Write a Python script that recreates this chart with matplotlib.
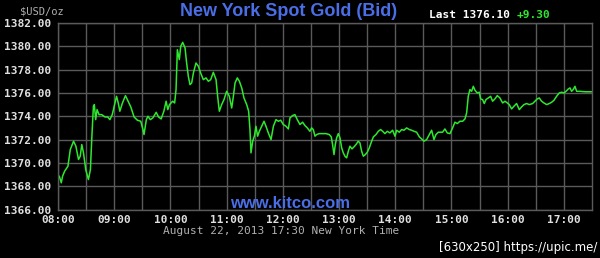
import matplotlib
matplotlib.use("Agg")
import matplotlib.pyplot as plt

# minutes after 08:00 and bid price
minutes = [
    0, 1.4, 3.5, 4.9, 7.1, 10.6, 13.1, 16.6, 19.1, 21.9, 23.7, 25.4, 27.2, 29.6,
    32.5, 34.6, 36.0, 37.8, 38.8, 40.2, 41.7, 43.8, 46.6, 50.1, 53.0, 55.4, 57.9,
    60.0, 62.5, 64.3, 66.0, 68.8, 72.0, 74.8, 77.7, 81.2, 84.7, 88.3, 90.7, 91.8,
    94.3, 96.0, 98.5, 101.3, 104.8, 107.3, 110.1, 113.0, 115.4, 117.2, 119.0,
    122.4, 124.5, 126.0, 127.4, 129.5, 131.0, 133.1, 135.6, 137.3, 139.1, 140.9,
    142.7, 144.5, 147.3, 149.8, 152.3, 155.1, 158.0, 160.5, 163.0, 165.8, 168.7,
    170.4, 172.2, 174.7, 177.2, 180.0, 182.9, 185.4, 187.2, 189.0, 191.4, 193.6,
    196.1, 198.5, 201.4, 203.5, 204.9, 206.0, 207.8, 209.6, 211.3, 213.1, 214.9,
    217.4, 219.9, 222.0, 224.5, 227.4, 229.9, 232.7, 235.2, 237.7, 240.5, 243.4,
    245.9,
    247.6, 250.4, 252.9, 255.4, 258.3, 261.1, 263.6, 266.1, 268.9, 270.7, 272.5,
    274.3, 276.1, 278.9, 282.5, 286.0, 289.6, 291.7, 293.1, 294.6, 296.0, 297.4,
    299.2, 301.0, 302.8, 304.5, 306.3, 308.1, 309.9, 311.6, 313.8, 315.9, 318.1,
    320.5, 322.3, 324.1, 325.9, 328.0, 330.1, 332.3, 334.4, 336.6, 339.4, 341.9,
    344.4, 346.5, 349.0, 351.5, 354.3, 357.2, 359.7, 361.5, 364.3, 366.8, 369.3,
    372.1, 375.0, 377.5, 380.0, 382.8, 385.7, 388.1, 390.6, 393.5, 396.3, 398.8,
    401.3, 403.4, 405.9,
    410.5, 413.0, 415.5, 418.4, 421.2, 423.7, 426.2, 429.0, 431.9, 434.4, 436.2,
    437.9, 439.7, 441.5, 443.3, 445.1, 447.5, 449.7, 451.1, 453.2, 455.0, 456.8,
    459.3, 461.8, 463.9, 466.4, 468.9, 471.7, 474.6, 477.1, 479.6, 481.7, 484.2,
    486.7, 489.5, 492.4, 494.9, 497.4, 500.2, 503.1, 506.6, 509.1, 511.6, 513.7,
    516.2, 518.7, 521.6, 524.4, 526.9, 529.4, 532.2, 535.1, 537.6, 540.1, 542.2,
    544.7, 546.5, 548.2, 550.0, 551.8, 553.6, 557.1, 563.0, 570.0,
]
prices = [
    1368.71, 1368.86, 1368.29, 1368.86, 1369.29, 1369.71, 1371.14, 1371.86,
    1371.43, 1370.29, 1370.57, 1371.57, 1370.86, 1369.43, 1368.57, 1369.43,
    1372.00, 1374.86, 1375.00, 1373.71, 1374.57, 1374.14, 1374.14, 1373.94,
    1373.94, 1373.71, 1374.14, 1374.86, 1375.71, 1375.14, 1374.43, 1375.14,
    1375.77, 1375.29, 1374.80, 1373.94, 1373.66, 1373.57, 1372.86, 1372.43,
    1373.71, 1374.00, 1373.71, 1373.86, 1374.34, 1373.94, 1373.77, 1374.43,
    1375.29, 1374.57, 1375.00,
    1375.29, 1375.14, 1376.29, 1379.71, 1378.86, 1380.00, 1380.34, 1379.86,
    1378.57, 1377.43, 1376.71, 1376.86, 1377.71, 1378.57, 1378.29, 1377.71,
    1377.14, 1377.29, 1377.00, 1377.14, 1377.77, 1377.14, 1375.71, 1374.43,
    1375.00, 1375.43, 1376.14, 1375.71, 1374.71, 1375.71, 1376.86, 1377.29,
    1377.00, 1376.43, 1375.57, 1375.00, 1374.43, 1372.86, 1370.86, 1371.86,
    1372.29, 1373.14, 1372.29, 1372.71, 1373.14, 1373.57, 1373.14, 1372.57,
    1372.00, 1373.14, 1373.71, 1373.57, 1373.66, 1373.29, 1373.14, 1372.91,
    1373.86, 1374.06, 1374.14, 1373.71, 1373.29, 1373.49, 1373.20, 1373.00,
    1372.71, 1373.00, 1372.86, 1372.29, 1372.43, 1372.51, 1372.51, 1372.51,
    1372.43, 1372.23, 1371.57, 1370.71, 1371.57, 1372.14, 1372.51, 1372.14,
    1371.29, 1370.86, 1370.57, 1370.43, 1371.00, 1371.43, 1371.20, 1371.37,
    1371.57, 1371.86, 1371.71, 1371.00, 1370.57, 1370.71, 1370.91, 1371.29,
    1371.77, 1372.23, 1372.43, 1372.71, 1372.86, 1372.71, 1372.51, 1372.71,
    1372.57, 1372.80, 1372.29, 1372.80, 1372.63, 1372.86, 1372.80, 1373.00,
    1372.86, 1372.80, 1372.71, 1372.63, 1372.23, 1372.06, 1371.86, 1372.00,
    1372.43, 1372.80, 1372.00, 1372.43, 1372.63,
    1372.63, 1372.91, 1372.57, 1372.51, 1373.00, 1373.49, 1373.37, 1373.57,
    1373.57, 1373.77, 1374.29, 1375.71, 1376.29, 1376.14, 1376.57, 1376.23,
    1376.00, 1376.06, 1375.49, 1375.43, 1375.09, 1375.43, 1375.57, 1375.71,
    1375.29, 1375.49, 1375.77, 1375.57, 1375.14, 1375.29, 1375.14, 1375.00,
    1374.63, 1374.86, 1375.09, 1374.57, 1374.80, 1375.00, 1375.09, 1375.00,
    1375.09, 1375.29, 1375.49, 1375.57, 1375.29, 1375.14, 1375.00, 1375.09,
    1375.20, 1375.37, 1375.71, 1376.00, 1376.06, 1376.00, 1376.14, 1376.34,
    1376.43, 1376.14, 1376.29, 1376.57, 1376.14, 1376.14, 1376.10, 1376.10,
]

hours = [8 + m / 60 for m in minutes]
hour_ticks = list(range(8, 18))
hour_labels = ["%02d:00" % h for h in hour_ticks]
price_ticks = list(range(1366, 1383, 2))
price_labels = ["%d.00" % p for p in price_ticks]

last_price = "1376.10"
change = "+9.30"

bg = "black"
grid_col = "#5a5a5a"
label_col = "#e0e0e0"
blue = "#4a6ee6"
green = "#2ee82e"

fig = plt.figure(figsize=(6.0, 2.58), dpi=100, facecolor=bg)
ax = fig.add_axes([58 / 600, 48.5 / 258, 534 / 600, 186.5 / 258], facecolor=bg)

ax.plot(hours, prices, color=green, lw=1.1)

ax.set_xlim(8, 17.5)
ax.set_ylim(1366, 1382)
ax.set_xticks(hour_ticks)
ax.set_xticklabels(hour_labels)
ax.set_xticks([h + 0.5 for h in hour_ticks[:-1]], minor=True)
ax.set_yticks(price_ticks)
ax.set_yticklabels(price_labels)
ax.grid(True, which="both", color=grid_col, lw=1.0)
ax.tick_params(which="both", length=0, colors=label_col, labelsize=8)
ax.tick_params(axis="x", pad=4)
ax.tick_params(axis="y", pad=5)
for lab in ax.get_xticklabels() + ax.get_yticklabels():
    lab.set_family("DejaVu Sans Mono")
    lab.set_fontweight("bold")
for s in ax.spines.values():
    s.set_color(grid_col)
    s.set_linewidth(1.0)

mono = "DejaVu Sans Mono"
fig.text(289 / 600, 1 - 12 / 258, "New York Spot Gold (Bid)", color=blue,
         fontsize=13, fontweight="bold", family="Liberation Sans",
         ha="center", va="center")
fig.text(42 / 600, 1 - 11 / 258, "$USD/oz", color="#b0b0b0", fontsize=7.5,
         family=mono, ha="center", va="center")
fig.text(429 / 600, 1 - 15 / 258, "Last " + last_price, color="white",
         fontsize=8, fontweight="bold", family=mono, ha="left", va="center")
fig.text(517 / 600, 1 - 15 / 258, change, color=green,
         fontsize=8, fontweight="bold", family=mono, ha="left", va="center")
fig.text(290 / 600, 1 - 203 / 258, "www.kitco.com", color=blue, fontsize=12,
         fontweight="bold", family="Liberation Sans", ha="center", va="center")
fig.text(281 / 600, 1 - 231 / 258, "August 22, 2013 17:30 New York Time",
         color="#b0b0b0", fontsize=8, family=mono, ha="center", va="center")
fig.text(597 / 600, 1 - 247 / 258, "[630x250] https://upic.me/", color="white",
         fontsize=8.5, family="DejaVu Sans", ha="right", va="center")

fig.savefig("out.png", dpi=100, facecolor=bg)
